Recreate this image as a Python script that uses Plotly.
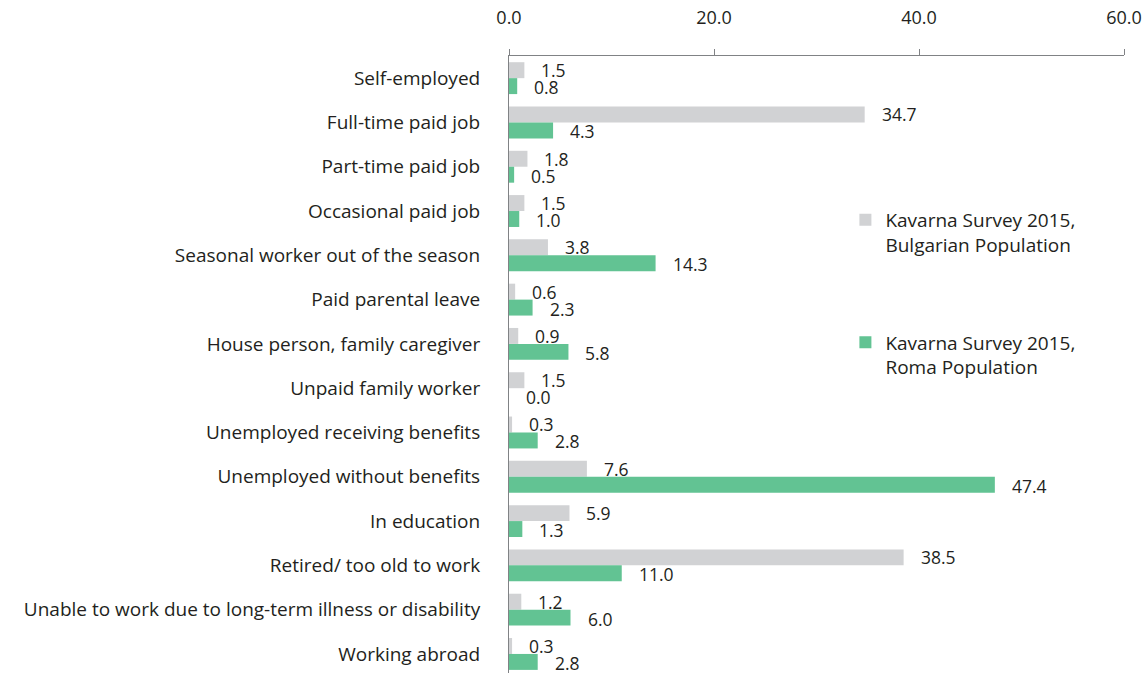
import plotly.graph_objects as go

categories = [
    "Self-employed",
    "Full-time paid job",
    "Part-time paid job",
    "Occasional paid job",
    "Seasonal worker out of the season",
    "Paid parental leave",
    "House person, family caregiver",
    "Unpaid family worker",
    "Unemployed receiving benefits",
    "Unemployed without benefits",
    "In education",
    "Retired/ too old to work",
    "Unable to work due to long-term illness or disability",
    "Working abroad",
]
bulgarian = [1.5, 34.7, 1.8, 1.5, 3.8, 0.6, 0.9, 1.5, 0.3, 7.6, 5.9, 38.5, 1.2, 0.3]
roma = [0.8, 4.3, 0.5, 1.0, 14.3, 2.3, 5.8, 0.0, 2.8, 47.4, 1.3, 11.0, 6.0, 2.8]
series_names = [
    "Kavarna Survey 2015,<br>Bulgarian Population",
    "Kavarna Survey 2015,<br>Roma Population",
]
tick_values = [0, 20, 40, 60]
tick_labels = ["0.0", "20.0", "40.0", "60.0"]

GREY = "#d1d2d4"
GREEN = "#62c393"
TEXT = "#231f20"
FONT = "Open Sans"

fig = go.Figure()
fig.add_trace(go.Bar(
    y=categories, x=bulgarian, orientation="h", name=series_names[0],
    marker=dict(color=GREY, line=dict(width=0)), legendgroup="bg",
))
fig.add_trace(go.Bar(
    y=categories, x=roma, orientation="h", name=series_names[1],
    marker=dict(color=GREEN, line=dict(width=0)), legendgroup="roma",
))

# value labels just past the end of each bar
annotations = []
for cat, b, r in zip(categories, bulgarian, roma):
    for val, ys in ((b, 8), (r, -9)):
        annotations.append(dict(
            x=val, y=cat, xref="x", yref="y", text=f"{val:.1f}",
            showarrow=False, xanchor="left", yanchor="middle",
            xshift=15, yshift=ys,
            font=dict(family=FONT, size=17.5, color=TEXT),
        ))

fig.update_layout(
    width=1144, height=673,
    margin=dict(l=509, r=20, t=56, b=0),
    paper_bgcolor="white", plot_bgcolor="white",
    barmode="group", bargap=0.28, bargroupgap=0,
    font=dict(family=FONT, size=18, color=TEXT),
    annotations=annotations,
    legend=dict(
        x=0.547, y=0.765, xanchor="left", yanchor="top",
        tracegroupgap=70, valign="top", itemwidth=30,
        font=dict(family=FONT, size=19, color=TEXT),
        bgcolor="rgba(0,0,0,0)",
    ),
)
fig.update_xaxes(
    side="top", range=[0, 60], tickvals=tick_values, ticktext=tick_labels,
    showgrid=False, zeroline=False, showline=True, linecolor="#808285",
    linewidth=1, ticks="outside", ticklen=6, tickcolor="#808285",
    ticklabelstandoff=18, tickfont=dict(family=FONT, size=18, color=TEXT),
)
fig.update_yaxes(
    range=[13.43, -0.5], showgrid=False, zeroline=False, showline=True,
    linecolor="#808285", linewidth=1, ticks="", ticklabelstandoff=24,
    tickfont=dict(family=FONT, size=19, color=TEXT),
)

fig.write_html("out.html")
